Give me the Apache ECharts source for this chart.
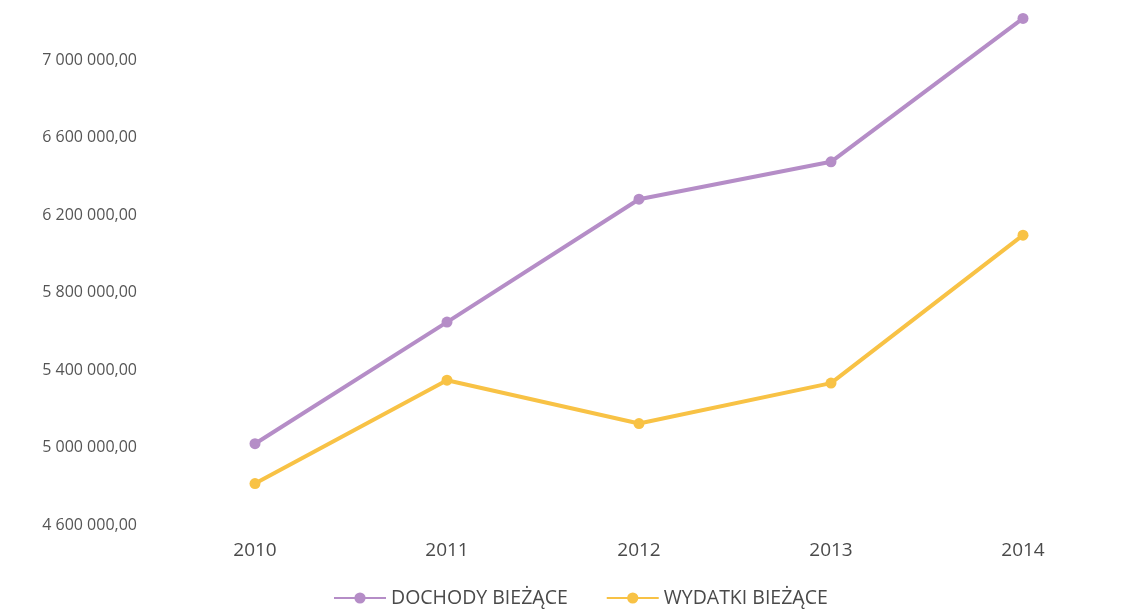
<!DOCTYPE html>
<html><head><meta charset="utf-8">
<script src="https://cdn.jsdelivr.net/npm/echarts@6/dist/echarts.min.js"></script>
<style>html,body{margin:0;padding:0;background:#fff}#c{width:1134px;height:609px}</style>
</head><body><div id="c"></div>
<script>
const years = ['2010','2011','2012','2013','2014'];
const dochody = [5020000, 5648000, 6283000, 6476000, 7217000];
const wydatki = [4814000, 5348000, 5124000, 5333000, 6097000];
const yMin = 4600000, yMax = 7250000, yStep = 400000;

function fmt(v){
  if ((v - yMin) % yStep !== 0) return '';
  const s = Math.round(v).toString().replace(/\B(?=(\d{3})+(?!\d))/g,' ');
  return s + ',00';
}
const font = '"Open Sans", "DejaVu Sans", sans-serif';
const chart = echarts.init(document.getElementById('c'));
chart.setOption({
  animation:false,
  backgroundColor:'#fff',
  grid:{left:159, right:15, top:12, bottom:84, containLabel:false},
  legend:{
    top:583, left:328, itemWidth:52, itemHeight:14, itemGap:38,
    textStyle:{fontFamily:font, fontSize:19.5, color:'#4a4a4a'},
    data:['DOCHODY BIEŻĄCE','WYDATKI BIEŻĄCE']
  },
  xAxis:{
    type:'category', data:years, boundaryGap:true,
    axisLine:{show:false}, axisTick:{show:false},
    axisLabel:{fontFamily:font, fontSize:19, color:'#4a4a4a', margin:16}
  },
  yAxis:{
    type:'value', min:yMin, max:yMax, interval:yStep,
    axisLine:{show:false}, axisTick:{show:false}, splitLine:{show:false},
    axisLabel:{fontFamily:font, fontSize:16, color:'#555555', margin:22, formatter:fmt, showMaxLabel:false}
  },
  series:[
    {name:'DOCHODY BIEŻĄCE', type:'line', data:dochody, symbol:'circle', symbolSize:11,
     lineStyle:{width:4, color:'#b58dc7'}, itemStyle:{color:'#b58dc7'}},
    {name:'WYDATKI BIEŻĄCE', type:'line', data:wydatki, symbol:'circle', symbolSize:11,
     lineStyle:{width:4, color:'#f8c245'}, itemStyle:{color:'#f8c245'}}
  ]
});
</script></body></html>
